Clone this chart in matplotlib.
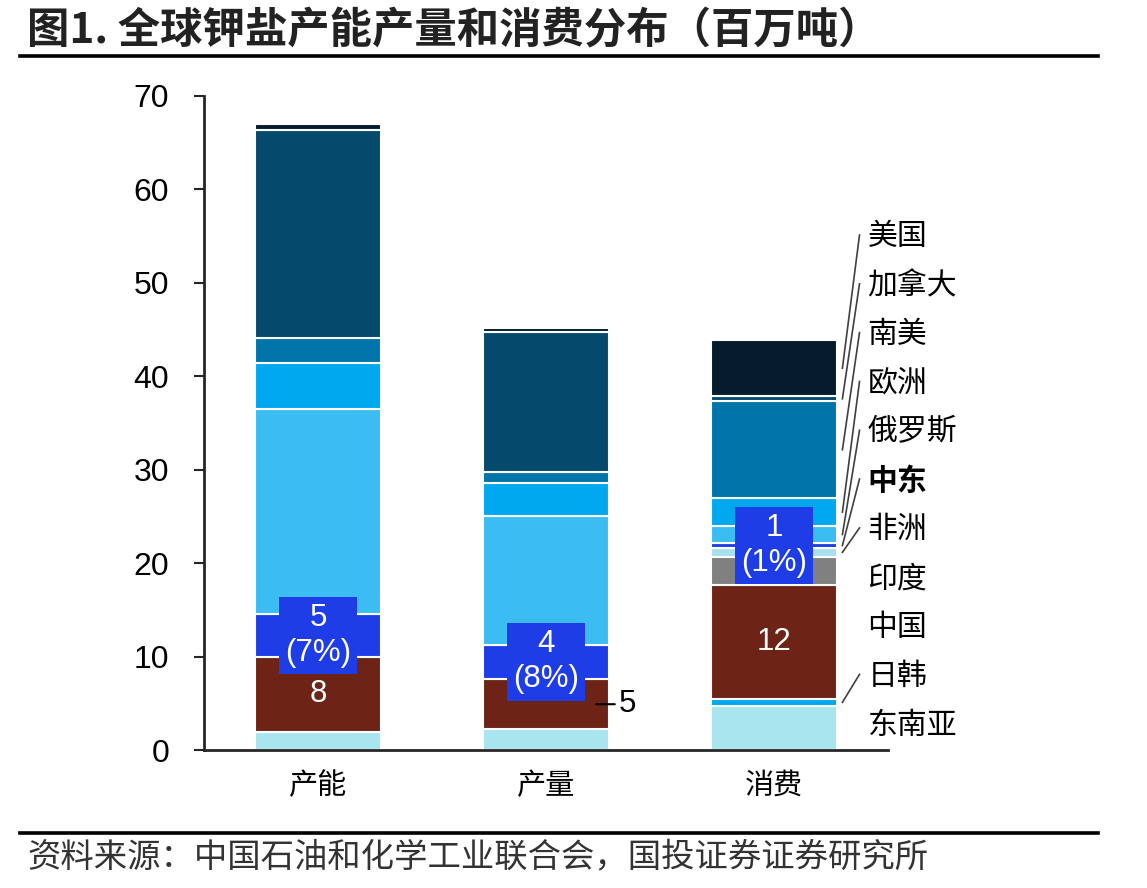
import numpy as np
import matplotlib
matplotlib.use("Agg")
import matplotlib.pyplot as plt
from matplotlib.lines import Line2D

plt.rcParams['font.family'] = ['Noto Sans CJK SC', 'DejaVu Sans']

categories = ['产能', '产量', '消费']
regions = ['东南亚', '日韩', '中国', '印度', '非洲', '中东', '俄罗斯', '欧洲', '南美', '加拿大', '美国']
capacity = [1.95, 0, 8.0, 0, 0, 4.6, 21.9, 4.95, 2.7, 22.2, 0.65]
production = [2.2, 0, 5.4, 0, 0, 3.65, 13.8, 3.5, 1.15, 15.0, 0.4]
consumption = [4.7, 0.8, 12.2, 3.0, 0.9, 0.55, 1.8, 3.0, 10.35, 0.55, 6.0]
yticks = [0, 10, 20, 30, 40, 50, 60, 70]
title = '图1. 全球钾盐产能产量和消费分布（百万吨）'
source = '资料来源：中国石油和化学工业联合会，国投证券证券研究所'

colors = ['#A9E5EF', '#00A6EE', '#6E2317', '#808080', '#A8E0F0', '#1F3DE6',
          '#3BBDF3', '#00A8F0', '#0075AA', '#034A6C', '#061B2B']
leader = ['美国', '加拿大', '南美', '欧洲', '俄罗斯', '中东', '非洲', '日韩']

data = np.array([capacity, production, consumption])
totals = data.sum(axis=1)

fig = plt.figure(figsize=(11.47, 8.88), dpi=100)
ax = fig.add_axes([0.1779, 0.1554, 0.5963, 0.7368])

x = np.arange(len(categories))
width = 0.55
bottoms = np.zeros(len(categories))
centers = np.zeros_like(data)
for j, reg in enumerate(regions):
    vals = data[:, j]
    for i in range(len(categories)):
        if vals[i] > 0:
            ax.bar(x[i], vals[i], width, bottom=bottoms[i], color=colors[j],
                   edgecolor='white', linewidth=1.5, zorder=2)
    centers[:, j] = bottoms + vals / 2
    bottoms += vals

lab_font = dict(family=['Liberation Sans', 'DejaVu Sans'], fontsize=22.5, color='white')
ci = regions.index('中国')
mi = regions.index('中东')
# China labels
for i in [0, 2]:
    ax.text(x[i], centers[i, ci], f"{round(data[i, ci])}", ha='center', va='center', zorder=5, **lab_font)
ax.annotate(f"{round(data[1, ci])}", xy=(x[1] + width / 2 - 0.055, centers[1, ci]),
            xytext=(x[1] + width / 2 + 0.045, centers[1, ci]), ha='left', va='center',
            fontsize=22.5, family=['Liberation Sans', 'DejaVu Sans'], color='black',
            arrowprops=dict(arrowstyle='-', color='black', lw=1.5, shrinkA=1, shrinkB=0), zorder=5)
# Middle East boxes
for i in range(3):
    v = data[i, mi]
    pct = v / totals[i] * 100
    ax.text(x[i], centers[i, mi], f"{round(v)}\n({round(pct)}%)", ha='center', va='center',
            linespacing=1.22, zorder=6,
            bbox=dict(boxstyle='square,pad=0.2', facecolor='#1F3DE6', edgecolor='none'),
            **lab_font)

ax.set_xlim(-0.5, 2.5)
ax.set_ylim(0, 70)
ax.set_yticks(yticks)
ax.set_yticklabels([str(t) for t in yticks], family=['Liberation Sans', 'DejaVu Sans'], fontsize=23)
ax.set_xticks(x)
ax.set_xticklabels(categories, fontsize=21)
ax.tick_params(axis='y', length=7, width=1.5, pad=18, color='#262626')
ax.tick_params(axis='x', length=0, pad=15)
for s in ['top', 'right']:
    ax.spines[s].set_visible(False)
for s in ['left', 'bottom']:
    ax.spines[s].set_color('#262626')
    ax.spines[s].set_linewidth(2)

# right-side labels
label_y = np.linspace(54.9, 2.67, len(regions))
for k, reg in enumerate(regions[::-1]):
    j = regions.index(reg)
    ly = label_y[k]
    ax.text(2.41, ly, reg, ha='left', va='center', fontsize=21.5,
            fontweight='bold' if reg == '中东' else 'normal', color='black', clip_on=False)
    if reg in leader:
        ax.plot([2.375, 2.30], [ly + 0.2, centers[2, j]], color='#404040', lw=1.2,
                clip_on=False, zorder=3)

fig.text(0.0235, 0.966, title, fontsize=30.5, fontweight='bold', color='#222222', va='center', ha='left')
fig.add_artist(Line2D([0.0174, 0.957], [0.9364, 0.9364], color='black', lw=2.6))
fig.add_artist(Line2D([0.0174, 0.957], [0.0614, 0.0614], color='black', lw=2.6))
fig.text(0.0235, 0.0349, source, fontsize=24, color='#333333', va='center', ha='left')

fig.savefig('out.png', dpi=100)
